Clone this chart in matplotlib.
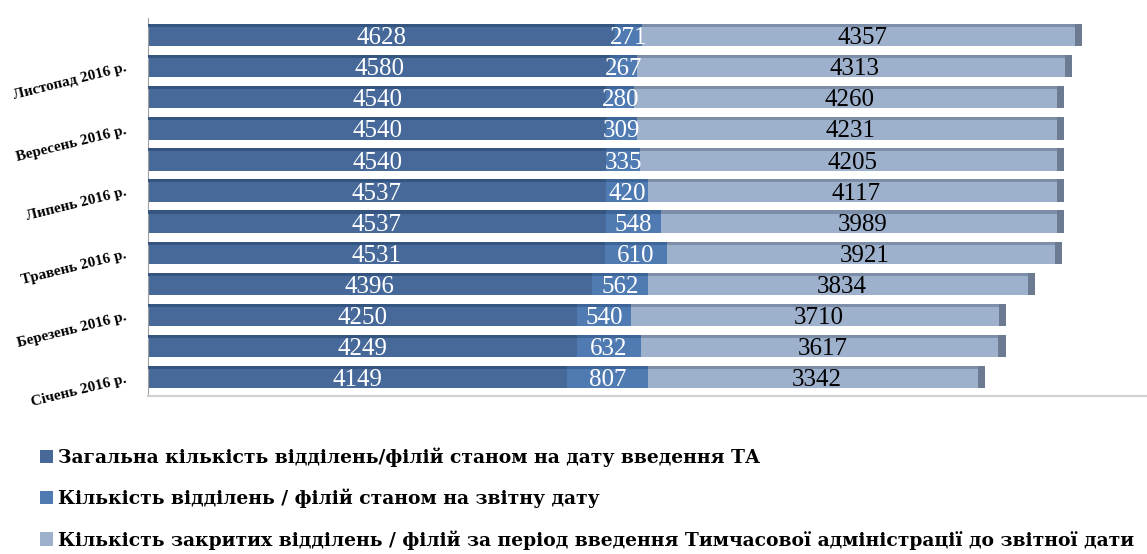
import matplotlib.pyplot as plt
from matplotlib.patches import Patch
import numpy as np

# months, bottom (Jan) to top (Dec); only every other one is labelled
months = ["Січень 2016 р.", "", "Березень 2016 р.", "", "Травень 2016 р.", "",
          "Липень 2016 р.", "", "Вересень 2016 р.", "", "Листопад 2016 р.", ""]

total_at_ta = [4149, 4249, 4250, 4396, 4531, 4537, 4537, 4540, 4540, 4540, 4580, 4628]
current = [807, 632, 540, 562, 610, 548, 420, 335, 309, 280, 267, 271]
closed = [3342, 3617, 3710, 3834, 3921, 3989, 4117, 4205, 4231, 4260, 4313, 4357]

series_names = [
    "Загальна кількість відділень/філій станом на дату введення ТА",
    "Кількість відділень / філій станом на звітну дату",
    "Кількість закритих відділень / філій за період введення Тимчасової адміністрації до звітної дати",
]

colors = ["#46699a", "#4f7bb2", "#9db0cc"]
top_colors = ["#34557f", "#3d6597", "#7d8ea8"]
text_colors = ["white", "white", "black"]

fig = plt.figure(figsize=(11.47, 5.54), dpi=100)
ax = fig.add_axes([148 / 1147, 1 - 396 / 554, 1 - 148 / 1147, 378 / 554])

y = np.arange(len(months))
h = 0.72
left = np.zeros(len(months))
for vals, c, tc, txtc in zip([total_at_ta, current, closed], colors, top_colors, text_colors):
    vals = np.array(vals, dtype=float)
    ax.barh(y, vals, left=left, height=h, color=c, edgecolor="none", zorder=2)
    ax.barh(y + h / 2 - 0.05, vals, left=left, height=0.1, color=tc, edgecolor="none", zorder=3)
    for yi, l, v in zip(y, left, vals):
        ax.text(l + v / 2, yi - 0.1, f"{int(v)}", ha="center", va="center",
                fontsize=18, family="Liberation Serif", color=txtc, zorder=4)
    left = left + vals

# right end cap of each bar (3D look)
ax.barh(y, 70, left=left - 70, height=h, color="#6c7b92", edgecolor="none", zorder=3)

ax.set_xlim(0, 9900)
ax.set_ylim(-0.61, len(months) - 0.45)
ax.set_yticks(y)
ax.set_yticklabels(months, rotation=14, ha="right", rotation_mode="anchor",
                   fontsize=11, fontweight="bold", family="Liberation Serif")
ax.tick_params(axis="y", length=0, pad=16)
ax.set_xticks([])
for s in ["top", "right"]:
    ax.spines[s].set_visible(False)
ax.spines["left"].set_color("#a0a0a0")
ax.spines["bottom"].set_color("#d0d0d0")
ax.spines["bottom"].set_linewidth(1.5)

handles = [Patch(facecolor=c, edgecolor="none") for c in colors]
fig.legend(handles, series_names, loc="upper left", bbox_to_anchor=(0.028, 0.205),
           frameon=False, prop={"family": "DejaVu Serif", "weight": "bold", "size": 13.5},
           labelspacing=1.15, handlelength=0.7, handleheight=0.7, handletextpad=0.3,
           borderaxespad=0.0)

fig.savefig("out.png", dpi=100)
